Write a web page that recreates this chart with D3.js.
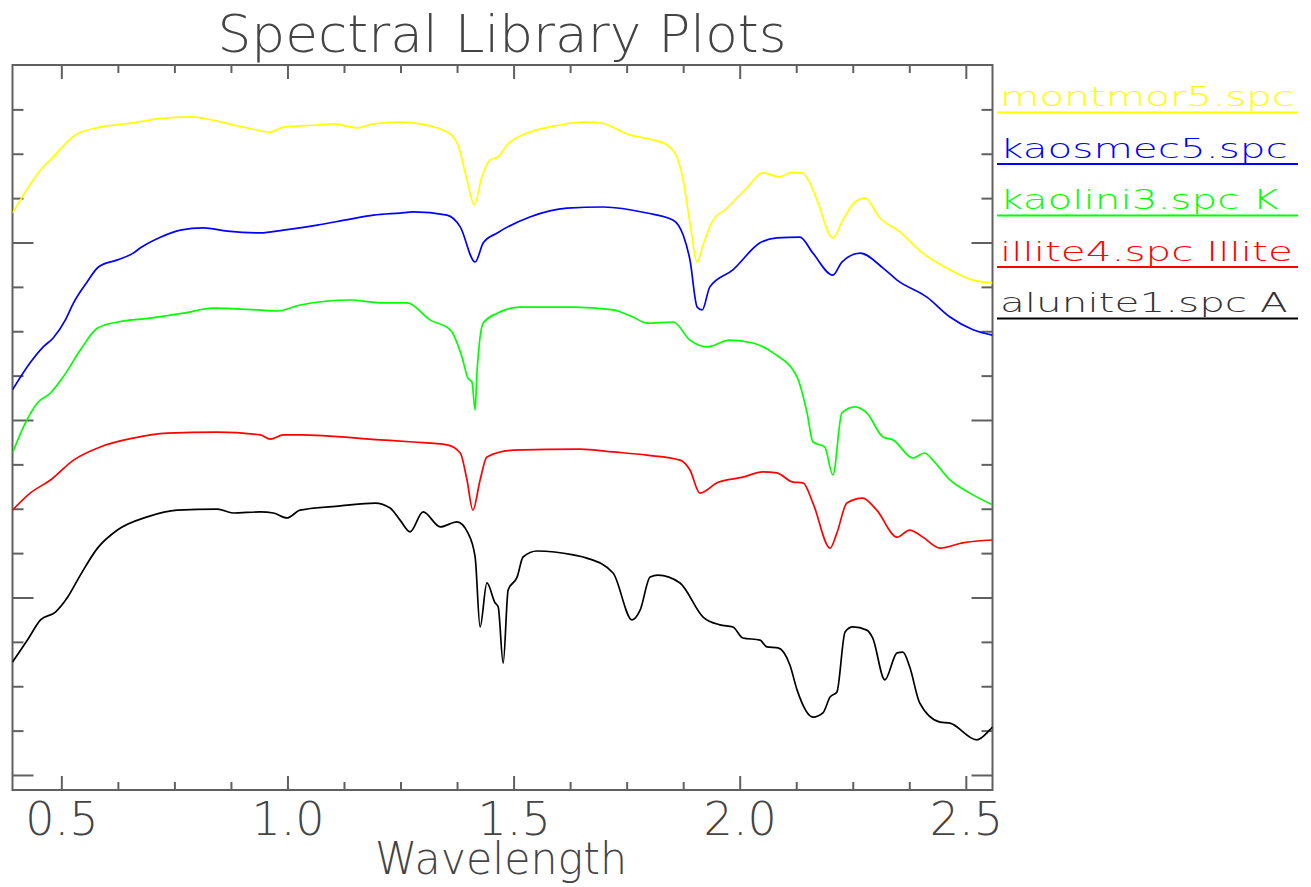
<!DOCTYPE html>
<html>
<head>
<meta charset="utf-8">
<script src="https://cdn.jsdelivr.net/npm/d3@7"></script>
<style>
  body { margin: 0; background: #fff; }
  svg { display: block; }
</style>
</head>
<body>
<script>
// spectra (wavelength in micrometres, offset reflectance)
var montmorWl = [0.392,0.438,0.454,0.482,0.531,0.586,0.659,0.712,0.785,0.845,0.880,0.911,0.962,0.991,1.066,1.101,1.154,1.190,1.249,1.278,1.353,1.377,1.397,1.413,1.430,1.448,1.466,1.486,1.536,1.603,1.654,1.691,1.757,1.808,1.839,1.861,1.875,1.890,1.906,1.919,1.939,1.972,2.016,2.051,2.089,2.111,2.138,2.155,2.171,2.206,2.228,2.255,2.277,2.310,2.354,2.405,2.465,2.516,2.559];
var montmorRefl = [1.583,1.676,1.704,1.741,1.803,1.825,1.837,1.848,1.854,1.842,1.831,1.823,1.811,1.825,1.831,1.834,1.823,1.834,1.839,1.837,1.811,1.775,1.676,1.606,1.685,1.732,1.741,1.775,1.811,1.831,1.839,1.837,1.803,1.789,1.775,1.741,1.676,1.555,1.445,1.493,1.558,1.597,1.654,1.696,1.685,1.696,1.696,1.668,1.620,1.513,1.563,1.614,1.625,1.569,1.530,1.470,1.423,1.394,1.386];

var kaosmecWl = [0.392,0.431,0.460,0.482,0.509,0.527,0.557,0.582,0.624,0.659,0.675,0.719,0.763,0.814,0.867,0.940,0.991,1.066,1.139,1.190,1.249,1.278,1.353,1.382,1.415,1.433,1.464,1.536,1.618,1.698,1.795,1.853,1.875,1.890,1.906,1.917,1.934,1.985,2.045,2.082,2.133,2.162,2.206,2.226,2.266,2.317,2.348,2.414,2.465,2.516,2.559];
var kaosmecRefl = [1.085,1.161,1.206,1.231,1.282,1.330,1.389,1.431,1.451,1.470,1.485,1.515,1.535,1.541,1.532,1.527,1.535,1.549,1.566,1.577,1.583,1.586,1.577,1.544,1.445,1.499,1.527,1.572,1.597,1.600,1.583,1.563,1.521,1.451,1.318,1.310,1.375,1.423,1.499,1.513,1.515,1.470,1.408,1.445,1.470,1.428,1.394,1.346,1.290,1.254,1.239];

var kaoliniWl = [0.392,0.416,0.447,0.476,0.504,0.542,0.580,0.624,0.697,0.770,0.836,0.933,0.977,1.028,1.139,1.205,1.265,1.315,1.360,1.386,1.399,1.408,1.415,1.419,1.433,1.464,1.514,1.632,1.720,1.764,1.795,1.853,1.890,1.928,1.978,2.029,2.074,2.127,2.149,2.162,2.188,2.206,2.226,2.255,2.281,2.317,2.339,2.383,2.409,2.427,2.465,2.509,2.559];
var kaoliniRefl = [0.907,0.980,1.048,1.076,1.121,1.197,1.259,1.276,1.287,1.301,1.315,1.310,1.307,1.324,1.338,1.330,1.330,1.282,1.254,1.177,1.118,1.107,1.028,1.132,1.273,1.301,1.318,1.318,1.310,1.290,1.273,1.276,1.225,1.206,1.225,1.217,1.189,1.121,1.020,0.938,0.924,0.845,1.020,1.037,1.020,0.952,0.944,0.893,0.907,0.887,0.831,0.794,0.761];

var illiteWl = [0.392,0.431,0.476,0.527,0.586,0.659,0.734,0.845,0.940,0.962,0.991,1.028,1.205,1.278,1.353,1.382,1.397,1.410,1.426,1.441,1.499,1.647,1.720,1.795,1.868,1.890,1.912,1.950,2.007,2.051,2.082,2.118,2.140,2.162,2.200,2.215,2.237,2.272,2.303,2.348,2.376,2.405,2.443,2.493,2.559];
var illiteRefl = [0.746,0.794,0.831,0.887,0.924,0.949,0.963,0.966,0.958,0.946,0.958,0.958,0.944,0.938,0.930,0.907,0.831,0.746,0.831,0.896,0.915,0.918,0.910,0.901,0.887,0.859,0.794,0.823,0.839,0.854,0.851,0.825,0.823,0.766,0.639,0.682,0.766,0.780,0.746,0.670,0.690,0.670,0.639,0.654,0.662];

var aluniteWl = [0.392,0.425,0.454,0.487,0.513,0.542,0.580,0.624,0.690,0.756,0.845,0.880,0.940,0.969,0.999,1.028,1.117,1.194,1.227,1.249,1.271,1.300,1.338,1.375,1.399,1.415,1.426,1.441,1.459,1.466,1.477,1.488,1.508,1.521,1.552,1.632,1.662,1.720,1.762,1.780,1.802,1.819,1.868,1.919,1.956,1.985,2.007,2.045,2.060,2.085,2.111,2.127,2.162,2.184,2.200,2.215,2.233,2.250,2.281,2.294,2.321,2.348,2.361,2.376,2.398,2.443,2.465,2.524,2.553,2.559];
var aluniteRefl = [0.318,0.380,0.437,0.459,0.499,0.563,0.639,0.690,0.727,0.746,0.749,0.738,0.741,0.738,0.724,0.746,0.758,0.766,0.752,0.718,0.685,0.741,0.699,0.713,0.682,0.614,0.417,0.541,0.485,0.473,0.315,0.521,0.558,0.614,0.631,0.620,0.611,0.569,0.437,0.465,0.558,0.563,0.541,0.445,0.423,0.417,0.386,0.380,0.361,0.358,0.310,0.239,0.163,0.175,0.220,0.234,0.403,0.417,0.408,0.386,0.268,0.344,0.346,0.304,0.203,0.149,0.146,0.099,0.127,0.135];

// legend names as far as they show in the picture (it is cut at the right)
var seriesNames = ["montmor5.spc", "kaosmec5.spc", "kaolini3.spc K", "illite4.spc Illite", "alunite1.spc A"];
var seriesColors = ["#ffff00", "#0000ff", "#00ff00", "#ff0000", "#000000"];
var xTickValues = [0.5, 1.0, 1.5, 2.0, 2.5];
var yTickValues = [0, 0.5, 1.0, 1.5];

var W = 1311, H = 887;
var plot = {left: 12.5, right: 992.5, top: 65, bottom: 790};
var axisColor = "#606060", textColor = "#444";
var font = "'DejaVu Sans', sans-serif";

var svg = d3.select("body").append("svg").attr("width", W).attr("height", H);

var x = d3.scaleLinear().domain([0.392, 2.559]).range([plot.left, plot.right]);
var y = d3.scaleLinear().domain([-0.0423, 2.0]).range([plot.bottom, plot.top]);

var xMinor = d3.range(0.625, 2.56, 0.125).filter(function (v) { return Math.abs(v * 2 - Math.round(v * 2)) > 1e-6; });
var yMinor = d3.range(0.125, 2.0, 0.125).filter(function (v) { return Math.abs(v * 2 - Math.round(v * 2)) > 1e-6; });

function styleAxis(g) {
	g.select(".domain").remove();
	g.selectAll(".tick line").attr("stroke", axisColor).attr("stroke-width", 2);
	g.selectAll(".tick text").attr("fill", textColor)
		.style("font-family", font).style("font-size", "46px").style("font-weight", 200);
}

// bottom
svg.append("g").attr("transform", "translate(0," + plot.bottom + ")")
	.call(d3.axisBottom(x).tickValues(xTickValues).tickSizeInner(-14).tickSizeOuter(0).tickPadding(12).tickFormat(d3.format(".1f")))
	.call(styleAxis);
svg.append("g").attr("transform", "translate(0," + plot.bottom + ")")
	.call(d3.axisBottom(x).tickValues(xMinor).tickSizeInner(-8).tickSizeOuter(0).tickFormat(""))
	.call(styleAxis);
// top
svg.append("g").attr("transform", "translate(0," + plot.top + ")")
	.call(d3.axisTop(x).tickValues(xTickValues).tickSizeInner(-14).tickSizeOuter(0).tickFormat(""))
	.call(styleAxis);
svg.append("g").attr("transform", "translate(0," + plot.top + ")")
	.call(d3.axisTop(x).tickValues(xMinor).tickSizeInner(-8).tickSizeOuter(0).tickFormat(""))
	.call(styleAxis);
// left
svg.append("g").attr("transform", "translate(" + plot.left + ",0)")
	.call(d3.axisLeft(y).tickValues(yTickValues).tickSizeInner(-21).tickSizeOuter(0).tickFormat(""))
	.call(styleAxis);
svg.append("g").attr("transform", "translate(" + plot.left + ",0)")
	.call(d3.axisLeft(y).tickValues(yMinor).tickSizeInner(-11).tickSizeOuter(0).tickFormat(""))
	.call(styleAxis);
// right
svg.append("g").attr("transform", "translate(" + plot.right + ",0)")
	.call(d3.axisRight(y).tickValues(yTickValues).tickSizeInner(-21).tickSizeOuter(0).tickFormat(""))
	.call(styleAxis);
svg.append("g").attr("transform", "translate(" + plot.right + ",0)")
	.call(d3.axisRight(y).tickValues(yMinor).tickSizeInner(-11).tickSizeOuter(0).tickFormat(""))
	.call(styleAxis);

svg.append("rect")
	.attr("x", plot.left).attr("y", plot.top)
	.attr("width", plot.right - plot.left).attr("height", plot.bottom - plot.top)
	.attr("fill", "none").attr("stroke", axisColor).attr("stroke-width", 2);

// curves
svg.append("clipPath").attr("id", "plotclip").append("rect")
	.attr("x", plot.left).attr("y", plot.top)
	.attr("width", plot.right - plot.left).attr("height", plot.bottom - plot.top);

var spectra = [
	d3.zip(montmorWl, montmorRefl),
	d3.zip(kaosmecWl, kaosmecRefl),
	d3.zip(kaoliniWl, kaoliniRefl),
	d3.zip(illiteWl, illiteRefl),
	d3.zip(aluniteWl, aluniteRefl)
];

var line = d3.line()
	.x(function (d) { return x(d[0]); })
	.y(function (d) { return y(d[1]); })
	.curve(d3.curveMonotoneX);

svg.append("g").attr("clip-path", "url(#plotclip)")
	.selectAll("path").data(spectra).enter().append("path")
	.attr("d", line)
	.attr("fill", "none")
	.attr("stroke", function (d, i) { return seriesColors[i]; })
	.attr("stroke-width", 1.7)
	.attr("stroke-linejoin", "round");

// title and axis label
svg.append("text")
	.attr("x", 502).attr("y", 52)
	.attr("text-anchor", "middle")
	.attr("textLength", 569).attr("lengthAdjust", "spacingAndGlyphs")
	.attr("fill", textColor)
	.style("font-family", font).style("font-size", "52px").style("font-weight", 200)
	.text("Spectral Library Plots");

svg.append("text")
	.attr("x", 501).attr("y", 874)
	.attr("text-anchor", "middle")
	.attr("textLength", 252).attr("lengthAdjust", "spacingAndGlyphs")
	.attr("fill", textColor)
	.style("font-family", font).style("font-size", "44px").style("font-weight", 200)
	.text("Wavelength");

// legend
var legend = svg.append("g");
seriesNames.forEach(function (name, i) {
	var base = 106 + i * 51.5;
	legend.append("text")
		.attr("transform", "translate(1000," + base + ") scale(1.5,1)")
		.attr("fill", i == 4 ? "#333" : seriesColors[i])
		.style("font-family", font).style("font-size", "27px").style("font-weight", 200)
		.text(name);
	legend.append("line")
		.attr("x1", 997).attr("x2", 1298)
		.attr("y1", base + 6.5).attr("y2", base + 6.5)
		.attr("stroke", seriesColors[i]).attr("stroke-width", 2);
});
</script>
</body>
</html>
